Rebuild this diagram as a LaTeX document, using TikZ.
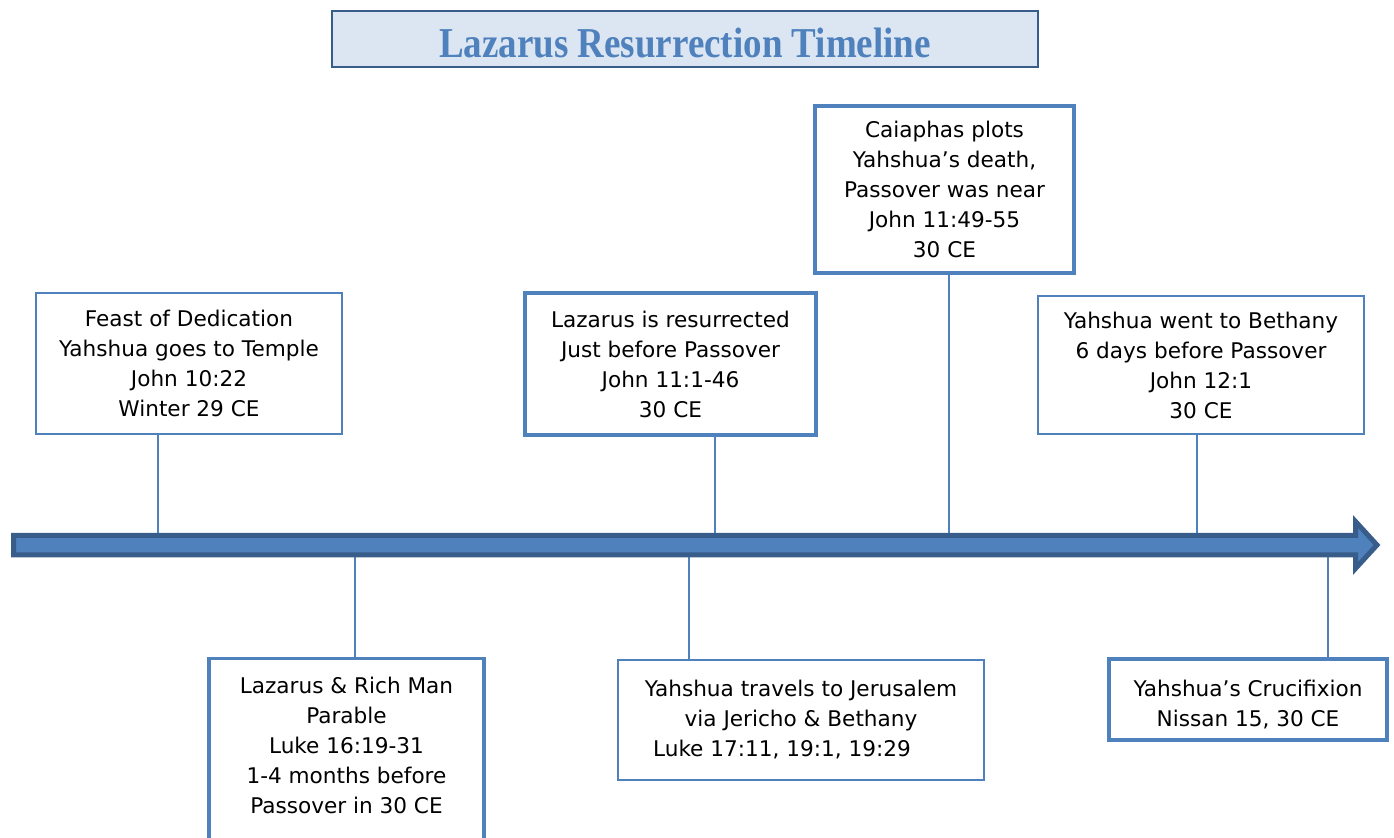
\documentclass[tikz,border=0pt]{standalone}
\usepackage{fontspec}
\setmainfont{DejaVu Sans}
\newfontfamily\titlefont{Liberation Serif}
\definecolor{tlblue}{HTML}{4F81BD}
\definecolor{tldark}{HTML}{385D8A}
\definecolor{tlpale}{HTML}{DCE6F2}
\tikzset{
  event/.style={draw=tlblue, line width=0.75pt, fill=white, align=center, inner sep=0pt, font=\fontsize{10.8}{15}\selectfont},
  keyevent/.style={event, line width=1.75pt},
  link/.style={draw=tlblue, line width=1pt},
}

\begin{document}
\begin{tikzpicture}[x=0.5pt,y=-0.5pt]
\useasboundingbox (0,0) rectangle (1394,838);
\clip (0,0) rectangle (1394,838);

\node[draw=tldark, fill=tlpale, line width=1pt, minimum width=353pt, minimum height=28pt, inner sep=0pt, text=tlblue, font=\titlefont\bfseries\fontsize{18.5}{20}\selectfont] (title) at (685,39) {\raisebox{-2pt}[\height][\depth]{\scalebox{1}[1.15]{Lazarus Resurrection Timeline}}};

% events above the line
\node[event, minimum width=153pt, minimum height=70.5pt] (feast) at (189,363.5) {Feast of Dedication\\Yahshua goes to Temple\\John 10:22\\Winter 29 CE};
\node[keyevent, minimum width=145.5pt, minimum height=71pt] (raised) at (670.5,364) {Lazarus is resurrected\\Just before Passover\\John 11:1-46\\30 CE};
\node[keyevent, minimum width=129.5pt, minimum height=83.5pt] (plot) at (944.5,189.5) {Caiaphas plots\\Yahshua’s death,\\Passover was near\\John 11:49-55\\30 CE};
\node[event, minimum width=163pt, minimum height=69pt] (bethany) at (1201,365) {Yahshua went to Bethany\\6 days before Passover\\John 12:1\\30 CE};

% events below the line
\node[keyevent, minimum width=137.5pt, minimum height=102pt] (parable) at (346.5,760.5) {Lazarus \& Rich Man\\Parable\\Luke 16:19-31\\1-4 months before\\Passover in 30 CE\\\mbox{}};
\node[event, minimum width=183pt, minimum height=60pt] (travel) at (801,720) {Yahshua travels to Jerusalem\\via Jericho \& Bethany\\Luke 17:11, 19:1, 19:29\hspace*{19pt}};
\node[keyevent, line width=2pt, minimum width=139pt, minimum height=40.5pt] (cross) at (1248,699.5) {\raisebox{-3pt}[\height][\depth]{\begin{tabular}{@{}c@{}}Yahshua’s Crucifixion\\[0pt]Nissan 15, 30 CE\end{tabular}}};

% ticks
\coordinate (a1) at (158,535);
\coordinate (a2) at (715,535);
\coordinate (a3) at (949,535);
\coordinate (a4) at (1197,535);
\coordinate (b1) at (355,556);
\coordinate (b2) at (689,556);
\coordinate (b3) at (1328,556);
\draw[link] (a1) -- (a1 |- feast.south);
\draw[link] (a2) -- (a2 |- raised.south);
\draw[link] (a3) -- (a3 |- plot.south);
\draw[link] (a4) -- (a4 |- bethany.south);
\draw[link] (b1) -- (b1 |- parable.north);
\draw[link] (b2) -- (b2 |- travel.north);
\draw[link] (b3) -- (b3 |- cross.north);

% time line
\filldraw[fill=tlblue, draw=tldark, line width=2.5pt, line join=miter] (13.5,535.5) -- (1355.5,535.5) -- (1355.5,521.5) -- (1377,545) -- (1355.5,568.5) -- (1355.5,555) -- (13.5,555) -- cycle;
\end{tikzpicture}
\end{document}
